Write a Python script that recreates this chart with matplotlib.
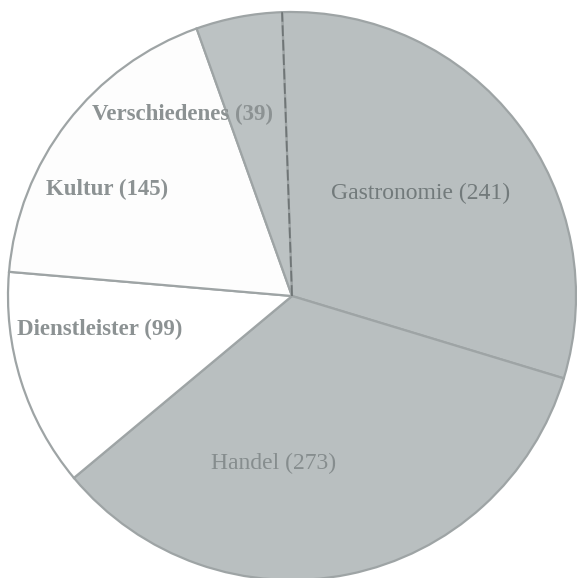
import numpy as np
import matplotlib.pyplot as plt

categories = ["Gastronomie", "Handel", "Dienstleister", "Kultur", "Verschiedenes"]
counts = [241, 273, 99, 145, 39]
colors = ["#b9bfc0", "#b9bfc0", "#ffffff", "#fdfdfd", "#bcc2c3"]

# label positions in pixel coords of the 577x578 image (y from the top), and styles
label_pos = [(421, 193), (274, 463), (100, 329), (107, 189), (182, 114)]
label_weight = ["normal", "normal", "bold", "bold", "bold"]
label_color = ["#727a7b", "#868d8e", "#8c9293", "#8c9293", "#8c9293"]
label_size = [17, 17, 16.5, 16.5, 16.5]

H = 578
fig = plt.figure(figsize=(5.77, 5.78), dpi=100)
ax = fig.add_axes([0, 0, 1, 1])

wedges, _ = ax.pie(counts, colors=colors, startangle=92, counterclock=False,
                   center=(292, H - 296), radius=284, frame=True,
                   wedgeprops=dict(edgecolor="#9ea4a5", linewidth=1.6))
ax.set_xlim(0, 577)
ax.set_ylim(0, H)
ax.axis("off")

# the edge at the top of Gastronomie is drawn darker in the original
w = wedges[0]
a = np.deg2rad(w.theta2)
cx, cy = w.center
ax.plot([cx, cx + w.r * np.cos(a)], [cy, cy + w.r * np.sin(a)],
        color="#6f7576", lw=1.3, ls=(0, (6, 2)))

for name, n, (x, y), wt, c, s in zip(categories, counts, label_pos, label_weight,
                                     label_color, label_size):
    ax.text(x, H - y, f"{name} ({n})", ha="center", va="center",
            fontsize=s, fontweight=wt, color=c, family="Liberation Serif")

fig.savefig("out.png", dpi=100)
